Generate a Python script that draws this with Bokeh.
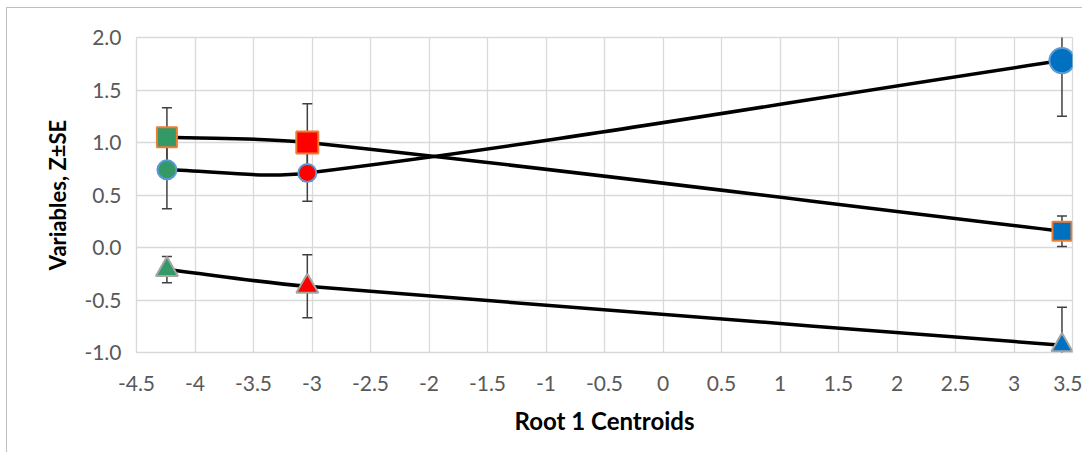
import math
from bokeh.plotting import figure
from bokeh.models import FixedTicker, CustomJSTickFormatter, ColumnDataSource
from bokeh.embed import file_html
from bokeh.resources import INLINE

# ---- data ----
centroids = [-4.24, -3.04, 3.41]          # Root 1 centroids (x)
circle_z = [0.74, 0.71, 1.78]
circle_se = [0.37, 0.27, 0.53]
square_z = [1.05, 1.00, 0.155]
square_se = [0.28, 0.37, 0.145]
tri_z = [-0.21, -0.37, -0.93]
tri_se = [0.125, 0.30, 0.36]

x_ticks = [-4.5, -4, -3.5, -3, -2.5, -2, -1.5, -1, -0.5, 0, 0.5, 1, 1.5, 2, 2.5, 3, 3.5]
y_ticks = [-1.0, -0.5, 0.0, 0.5, 1.0, 1.5, 2.0]

# ---- styles ----
point_fill = ["#339966", "#ff0000", "#0070c0"]
circle_sizes = [19, 18, 25]
square_sizes = [20, 22, 19]
tri_sizes = [22, 22, 21]
FONT = "Lato"
FW, FH = 936, 315
X0, X1, Y0, Y1 = -4.5, 3.5, -1.0, 2.0

p = figure(frame_width=FW, frame_height=FH,
           min_border_left=129, min_border_right=10,
           min_border_top=29, min_border_bottom=100,
           x_range=(X0, X1), y_range=(Y0, Y1),
           output_backend="svg", toolbar_location=None,
           background_fill_color="white", border_fill_color="white")
p.styles = {"border-left": "1.5px solid #bfbfbf", "border-top": "1.5px solid #bfbfbf",
            "margin-left": "6px", "margin-top": "7px"}

p.outline_line_color = "#d9d9d9"
p.outline_line_width = 1.3
for g in (p.xgrid, p.ygrid):
    g.grid_line_color = "#d9d9d9"
    g.grid_line_width = 1.3

p.xaxis.ticker = FixedTicker(ticks=x_ticks)
p.yaxis.ticker = FixedTicker(ticks=y_ticks)
p.xgrid.ticker = FixedTicker(ticks=x_ticks)
p.ygrid.ticker = FixedTicker(ticks=y_ticks)
p.xaxis.formatter = CustomJSTickFormatter(code="return String(Math.round(tick*10)/10)")
p.yaxis.formatter = CustomJSTickFormatter(code="return tick.toFixed(1)")

for ax in (p.xaxis, p.yaxis):
    ax.axis_line_color = None
    ax.major_tick_line_color = None
    ax.minor_tick_line_color = None
    ax.major_label_text_font = FONT
    ax.major_label_text_font_size = "21px"
    ax.major_label_text_color = "#595959"
    ax.axis_label_text_font = FONT
    ax.axis_label_text_font_style = "bold"
    ax.axis_label_text_color = "black"

p.xaxis.axis_label = "Root 1 Centroids"
p.yaxis.axis_label = "Variables, Z±SE"
p.xaxis.axis_label_text_font_size = "24px"
p.yaxis.axis_label_text_font_size = "22px"
p.xaxis.major_label_standoff = 17
p.yaxis.major_label_standoff = 9
p.xaxis.axis_label_standoff = 12
p.yaxis.axis_label_standoff = 10

# pixel scale (for length-weighted smoothing, like a spreadsheet's smoothed line)
SX = FW / (X1 - X0)
SY = FH / (Y1 - Y0)


def smooth_segments(xs, ys):
    n = len(xs)
    L = [math.hypot((xs[i + 1] - xs[i]) * SX, (ys[i + 1] - ys[i]) * SY) for i in range(n - 1)]

    def tangent(i):
        # returns (out_dx, out_dy, in_dx, in_dy) control offsets at point i
        if i == 0:
            dx, dy = xs[1] - xs[0], ys[1] - ys[0]
            return dx / 3, dy / 3, 0, 0
        if i == n - 1:
            dx, dy = xs[i] - xs[i - 1], ys[i] - ys[i - 1]
            return 0, 0, dx / 3, dy / 3
        dx, dy = xs[i + 1] - xs[i - 1], ys[i + 1] - ys[i - 1]
        a, b = L[i - 1], L[i]
        return dx * b / (a + b) / 3, dy * b / (a + b) / 3, dx * a / (a + b) / 3, dy * a / (a + b) / 3

    d = dict(x0=[], y0=[], x1=[], y1=[], cx0=[], cy0=[], cx1=[], cy1=[])
    for i in range(n - 1):
        ox, oy, _, _ = tangent(i)
        _, _, ix, iy = tangent(i + 1)
        d["x0"].append(xs[i]); d["y0"].append(ys[i])
        d["x1"].append(xs[i + 1]); d["y1"].append(ys[i + 1])
        d["cx0"].append(xs[i] + ox); d["cy0"].append(ys[i] + oy)
        d["cx1"].append(xs[i + 1] - ix); d["cy1"].append(ys[i + 1] - iy)
    return ColumnDataSource(d)


series = [
    (circle_z, circle_se, "circle", "#5b9bd5", circle_sizes),
    (square_z, square_se, "square", "#ed7d31", square_sizes),
    (tri_z, tri_se, "triangle", "#a5a5a5", tri_sizes),
]

# smoothed lines
for z, se, m, lc, sz in series:
    p.bezier(x0="x0", y0="y0", x1="x1", y1="y1", cx0="cx0", cy0="cy0",
             cx1="cx1", cy1="cy1", source=smooth_segments(centroids, z),
             line_color="black", line_width=3.5, line_cap="round")

# error bars
for z, se, m, lc, sz in series:
    lo = [v - e for v, e in zip(z, se)]
    hi = [v + e for v, e in zip(z, se)]
    p.segment(x0=centroids, y0=lo, x1=centroids, y1=hi,
              line_color="#404040", line_width=1.5)
    p.scatter(x=centroids + centroids, y=lo + hi, marker="dash", size=10,
              line_color="#404040", line_width=1.5)

# markers
for z, se, m, lc, sz in series:
    src = ColumnDataSource(dict(x=centroids, y=z, fill=point_fill, size=sz))
    p.scatter(x="x", y="y", size="size", marker=m, source=src,
              fill_color="fill", line_color=lc, line_width=2)

open("out.html", "w").write(file_html(p, INLINE))
